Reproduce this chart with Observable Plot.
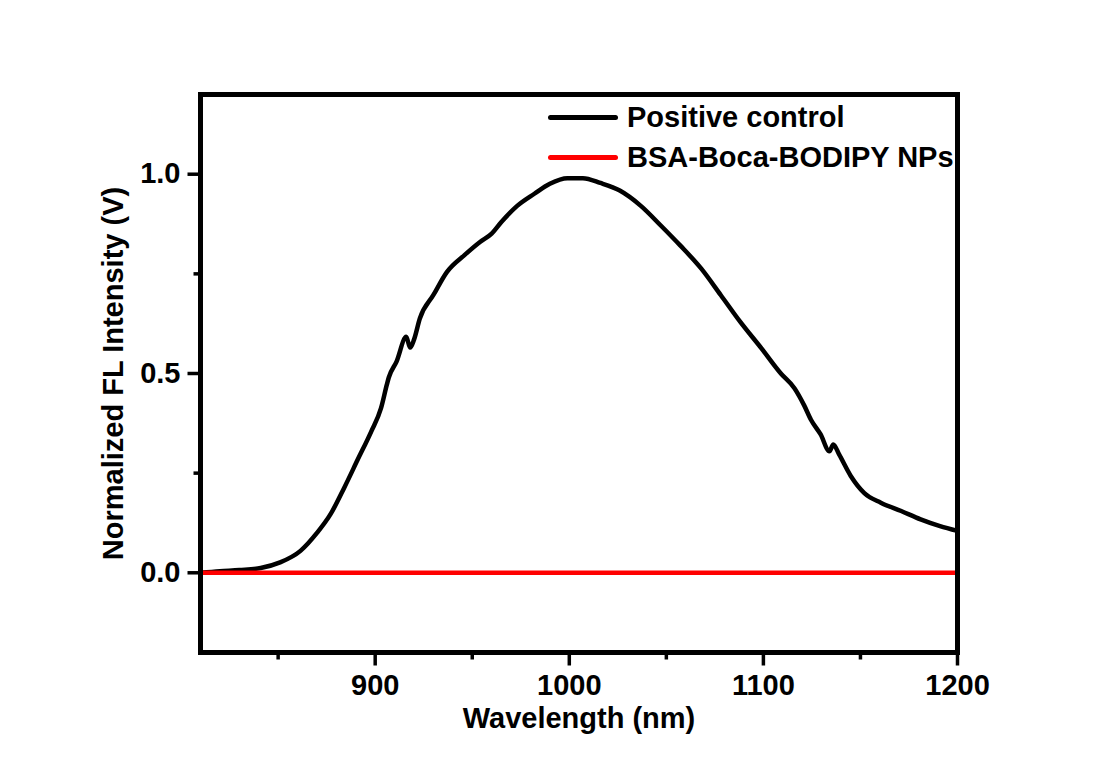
<!DOCTYPE html>
<html>
<head>
<meta charset="utf-8">
<script src="https://cdn.jsdelivr.net/npm/d3@7"></script>
<script src="https://cdn.jsdelivr.net/npm/@observablehq/plot@0.6"></script>
<style>
  body { margin: 0; background: #fff; }
  #wrap { position: relative; width: 1095px; height: 773px; font-family: "Liberation Sans", Arial, sans-serif; font-weight: bold; }
  #legend { position: absolute; left: 548px; top: 97px; font-size: 29px; line-height: 40px; color: #000; }
  #legend .row { display: flex; align-items: center; white-space: nowrap; }
  #legend .sw { width: 70px; height: 5px; border-radius: 3px; margin-right: 9px; }
</style>
</head>
<body>
<div id="wrap">
  <div id="chart"></div>
  <div id="legend"></div>
</div>
<script>
const seriesNames = ["Positive control", "BSA-Boca-BODIPY NPs"];
const seriesColors = ["#000000", "#ff0000"];
const xTitle = "Wavelength (nm)";
const yTitle = "Normalized FL Intensity (V)";

const positiveWavelength = [810, 820, 830, 841, 851, 861.5, 870, 877, 884, 891, 898, 903, 906, 907, 911, 916, 918, 920, 923, 930, 937, 946, 954, 960, 965, 973, 982, 990, 999, 1007, 1016, 1026, 1037, 1047, 1057, 1068, 1078, 1088, 1099, 1109, 1116, 1121, 1124.5, 1129.5, 1134, 1136, 1139, 1145, 1152, 1160.5, 1171, 1181, 1191, 1200];
const positiveValue      = [0.0, 0.004, 0.007, 0.012, 0.026, 0.055, 0.10, 0.147, 0.213, 0.284, 0.355, 0.413, 0.472, 0.49, 0.53, 0.592, 0.565, 0.585, 0.638, 0.697, 0.755, 0.797, 0.83, 0.851, 0.88, 0.92, 0.951, 0.976, 0.99, 0.99, 0.978, 0.959, 0.92, 0.872, 0.822, 0.763, 0.697, 0.63, 0.563, 0.50, 0.463, 0.42, 0.384, 0.347, 0.305, 0.322, 0.297, 0.243, 0.20, 0.176, 0.155, 0.134, 0.117, 0.105];

const npWavelength = [810, 900, 1000, 1100, 1200];
const npValue      = [0, 0, 0, 0, 0];

const xDomain = [810, 1200];
const yDomain = [-0.2, 1.2];
const xMajorTicks = [900, 1000, 1100, 1200];
const xMinorTicks = [850, 950, 1050, 1150];
const yMajorTicks = [0, 0.5, 1.0];
const yMinorTicks = [0.25, 0.75];

const positive = positiveWavelength.map((w, i) => ({w, v: positiveValue[i]}));
const np = npWavelength.map((w, i) => ({w, v: npValue[i]}));

const font = '"Liberation Sans", Arial, sans-serif';
const W = 1095, H = 773, mL = 200, mR = 138, mT = 94, mB = 121;
// data units per pixel, to express outward tick lengths
const xPerPx = (xDomain[1] - xDomain[0]) / (W - mL - mR);
const yPerPx = (yDomain[1] - yDomain[0]) / (H - mT - mB);
const majorLen = 13, minorLen = 7;

const plot = Plot.plot({
  width: W,
  height: H,
  marginLeft: mL,
  marginRight: mR,
  marginTop: mT,
  marginBottom: mB,
  style: {fontFamily: font, fontWeight: "bold", fontSize: "29px", color: "#000", background: "#fff"},
  x: {domain: xDomain, axis: null},
  y: {domain: yDomain, axis: null},
  marks: [
    Plot.line(positive, {x: "w", y: "v", stroke: seriesColors[0], strokeWidth: 4.5, strokeLinejoin: "round", curve: "monotone-x"}),
    Plot.line(np, {x: "w", y: "v", stroke: seriesColors[1], strokeWidth: 4.5}),
    // tick labels
    Plot.text(xMajorTicks, {x: d => d, y: () => yDomain[0], dy: 33, text: d => String(d), lineAnchor: "middle", textAnchor: "middle", fontSize: 29, fontWeight: "bold", fill: "#000", clip: false}),
    Plot.text(yMajorTicks, {y: d => d, x: () => xDomain[0], dx: -20, text: d => d.toFixed(1), lineAnchor: "middle", textAnchor: "end", fontSize: 29, fontWeight: "bold", fill: "#000", clip: false}),
    // axis titles
    Plot.text([xTitle], {text: d => d, frameAnchor: "bottom", dy: 66, lineAnchor: "middle", textAnchor: "middle", fontSize: 29, fontWeight: "bold", fill: "#000"}),
    Plot.text([yTitle], {text: d => d, frameAnchor: "left", dx: -87, rotate: -90, lineAnchor: "middle", textAnchor: "middle", fontSize: 29, fontWeight: "bold", fill: "#000"}),
    Plot.frame({stroke: "#000", strokeWidth: 5}),
    // outward ticks (drawn last)
    Plot.link(xMajorTicks, {x1: d => d, x2: d => d, y1: () => yDomain[0], y2: () => yDomain[0] - majorLen * yPerPx, stroke: "#000", strokeWidth: 3.5, clip: false}),
    Plot.link(xMinorTicks, {x1: d => d, x2: d => d, y1: () => yDomain[0], y2: () => yDomain[0] - minorLen * yPerPx, stroke: "#000", strokeWidth: 3.5, clip: false}),
    Plot.link(yMajorTicks, {y1: d => d, y2: d => d, x1: () => xDomain[0], x2: () => xDomain[0] - majorLen * xPerPx, stroke: "#000", strokeWidth: 3.5, clip: false}),
    Plot.link(yMinorTicks, {y1: d => d, y2: d => d, x1: () => xDomain[0], x2: () => xDomain[0] - minorLen * xPerPx, stroke: "#000", strokeWidth: 3.5, clip: false})
  ]
});
document.getElementById("chart").appendChild(plot);

const legend = document.getElementById("legend");
seriesNames.forEach((name, i) => {
  const row = document.createElement("div");
  row.className = "row";
  const sw = document.createElement("span");
  sw.className = "sw";
  sw.style.background = seriesColors[i];
  const t = document.createElement("span");
  t.textContent = name;
  row.appendChild(sw);
  row.appendChild(t);
  legend.appendChild(row);
});
</script>
</body>
</html>
